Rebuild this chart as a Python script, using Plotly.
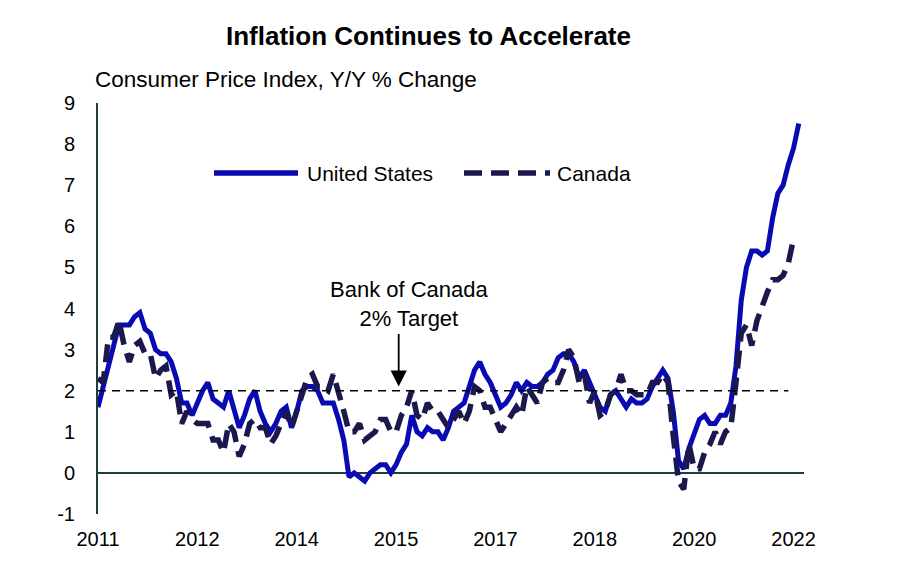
import plotly.graph_objects as go

start_year = 2011
us_cpi = [
    1.6, 2.1, 2.7, 3.2, 3.6, 3.6, 3.6, 3.8, 3.9, 3.5, 3.4, 3.0,
    2.9, 2.9, 2.7, 2.3, 1.7, 1.7, 1.4, 1.7, 2.0, 2.2, 1.8, 1.7,
    1.6, 2.0, 1.5, 1.1, 1.4, 1.8, 2.0, 1.5, 1.2, 1.0, 1.2, 1.5,
    1.6, 1.1, 1.5, 2.0, 2.1, 2.1, 2.0, 1.7, 1.7, 1.7, 1.3, 0.8,
    -0.1, 0.0, -0.1, -0.2, 0.0, 0.1, 0.2, 0.2, 0.0, 0.2, 0.5, 0.7,
    1.4, 1.0, 0.9, 1.1, 1.0, 1.0, 0.8, 1.1, 1.5, 1.6, 1.7, 2.1,
    2.5, 2.7, 2.4, 2.2, 1.9, 1.6, 1.7, 1.9, 2.2, 2.0, 2.2, 2.1,
    2.1, 2.2, 2.4, 2.5, 2.8, 2.9, 2.9, 2.7, 2.3, 2.5, 2.2, 1.9,
    1.6, 1.5, 1.9, 2.0, 1.8, 1.6, 1.8, 1.7, 1.7, 1.8, 2.1, 2.3,
    2.5, 2.3, 1.5, 0.3, 0.1, 0.6, 1.0, 1.3, 1.4, 1.2, 1.2, 1.4,
    1.4, 1.7, 2.6, 4.2, 5.0, 5.4, 5.4, 5.3, 5.4, 6.2, 6.8, 7.0,
    7.5, 7.9, 8.5,
]
canada_cpi = [
    2.3, 2.2, 3.3, 3.3, 3.7, 3.1, 2.7, 3.1, 3.2, 2.9, 2.9, 2.3,
    2.5, 2.6, 1.9, 2.0, 1.2, 1.5, 1.3, 1.2, 1.2, 1.2, 0.8, 0.8,
    0.5, 1.2, 1.0, 0.4, 0.7, 1.2, 1.3, 1.1, 1.1, 0.7, 0.9, 1.2,
    1.5, 1.1, 1.5, 2.0, 2.3, 2.4, 2.1, 2.1, 2.0, 2.4, 2.0, 1.5,
    1.0, 1.0, 1.2, 0.8, 0.9, 1.0, 1.3, 1.3, 1.0, 1.0, 1.4, 1.6,
    2.0, 1.4, 1.3, 1.7, 1.5, 1.5, 1.3, 1.1, 1.3, 1.5, 1.2, 1.5,
    2.1, 2.0, 1.6, 1.6, 1.3, 1.0, 1.2, 1.4, 1.6, 1.4, 2.1, 1.9,
    1.7, 2.2, 2.3, 2.2, 2.2, 2.5, 3.0, 2.8, 2.2, 2.4, 1.7, 2.0,
    1.4, 1.5, 1.9, 2.0, 2.4, 2.0, 2.0, 1.9, 1.9, 1.9, 2.2, 2.2,
    2.4, 2.2, 0.9, -0.2, -0.4, 0.7, 0.1, 0.1, 0.5, 0.7, 1.0, 0.7,
    1.0, 1.1, 2.2, 3.4, 3.6, 3.1, 3.7, 4.1, 4.4, 4.7, 4.7, 4.8,
    5.1, 5.7,
]
target_value = 2
tick_step_months = 19
tick_labels = ["2011", "2012", "2014", "2015", "2017", "2018", "2020", "2022"]
y_ticks = list(range(-1, 10))
y_tick_labels = [str(v) for v in y_ticks]

us_x = list(range(len(us_cpi)))
ca_x = list(range(len(canada_cpi)))
tick_vals = [i * tick_step_months for i in range(len(tick_labels))]

US_COLOR = "#0a0ab4"
CA_COLOR = "#1a184d"
AXIS_COLOR = "#1f3d3b"
FONT = "Liberation Sans, Arial, sans-serif"

fig = go.Figure()
fig.add_trace(go.Scatter(x=us_x, y=us_cpi, mode="lines", name="United States",
                         line=dict(color=US_COLOR, width=5), showlegend=False))
fig.add_trace(go.Scatter(x=ca_x, y=canada_cpi, mode="lines", name="Canada",
                         line=dict(color=CA_COLOR, width=5.5, dash="18px,9px"), showlegend=False))
fig.add_trace(go.Scatter(x=[0, 132], y=[target_value, target_value], mode="lines",
                         line=dict(color="black", width=1.5, dash="8px,6px"),
                         showlegend=False, hoverinfo="skip"))


def px2paper_x(px):
    return (px - 98) / 706


def py2paper_y(py):
    return (514 - py) / 411


# manual legend (long line samples like the reference)
legend_y = py2paper_y(173)
fig.add_shape(type="line", xref="paper", yref="paper",
              x0=px2paper_x(214), x1=px2paper_x(298), y0=legend_y, y1=legend_y,
              line=dict(color=US_COLOR, width=5.5))
fig.add_shape(type="line", xref="paper", yref="paper",
              x0=px2paper_x(464), x1=px2paper_x(550), y0=legend_y, y1=legend_y,
              line=dict(color=CA_COLOR, width=5.5, dash="18px,9px"))
fig.add_annotation(xref="paper", yref="paper", x=px2paper_x(305), y=legend_y,
                   text="United States", showarrow=False, xanchor="left", yanchor="middle",
                   font=dict(family=FONT, size=21, color="black"))
fig.add_annotation(xref="paper", yref="paper", x=px2paper_x(555), y=legend_y,
                   text="Canada", showarrow=False, xanchor="left", yanchor="middle",
                   font=dict(family=FONT, size=21, color="black"))

# Bank of Canada annotation: text and separate arrow
fig.add_annotation(xref="paper", yref="paper", x=px2paper_x(409), y=py2paper_y(304),
                   text="Bank of Canada<br>2% Target", showarrow=False,
                   xanchor="center", yanchor="middle",
                   font=dict(family=FONT, size=22, color="black"))
fig.add_annotation(x=57.5, y=2.1, xref="x", yref="y", text="", showarrow=True,
                   ax=0, ay=-54, arrowhead=2, arrowsize=1.8, arrowwidth=1.8,
                   arrowcolor="black", standoff=0)

# titles
fig.add_annotation(xref="paper", yref="paper", x=px2paper_x(428), y=py2paper_y(36),
                   text="<b>Inflation Continues to Accelerate</b>", showarrow=False,
                   xanchor="center", yanchor="middle",
                   font=dict(family=FONT, size=26, color="black"))
fig.add_annotation(xref="paper", yref="paper", x=px2paper_x(93), y=py2paper_y(79),
                   text="Consumer Price Index, Y/Y % Change", showarrow=False,
                   xanchor="left", yanchor="middle",
                   font=dict(family=FONT, size=22.5, color="black"))

fig.update_layout(
    width=900, height=572,
    margin=dict(l=98, r=96, t=103, b=58),
    paper_bgcolor="white", plot_bgcolor="white",
    font=dict(family=FONT, size=20, color="black"),
    showlegend=False,
)
fig.update_xaxes(range=[0, 135], tickvals=tick_vals, ticktext=tick_labels,
                 showgrid=False, zeroline=False, showline=False,
                 ticks="outside", ticklen=7, tickcolor="rgba(0,0,0,0)",
                 tickfont=dict(size=20))
fig.update_yaxes(range=[-1, 9], tickvals=y_ticks, ticktext=y_tick_labels, showgrid=False,
                 zeroline=True, zerolinecolor=AXIS_COLOR, zerolinewidth=1.5,
                 showline=True, linecolor=AXIS_COLOR, linewidth=2,
                 ticks="outside", ticklen=17, tickcolor="rgba(0,0,0,0)",
                 tickfont=dict(size=20))

fig.write_html("out.html")
